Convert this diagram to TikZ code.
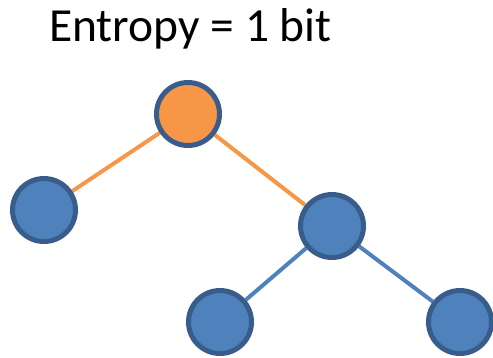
\documentclass[tikz,border=0pt]{standalone}
\usepackage{fontspec}
\setmainfont{Carlito}
\usetikzlibrary{backgrounds}
\definecolor{orfill}{HTML}{F79646}
\definecolor{blfill}{HTML}{4F81BD}
\definecolor{bledge}{HTML}{385D8A}
\tikzset{
  treenode/.style={circle, draw=bledge, line width=5pt, minimum size=63pt, inner sep=0pt},
  leafnode/.style={treenode, fill=blfill},
  rootnode/.style={treenode, fill=orfill},
  oedge/.style={draw=orfill, line width=4pt},
  bedge/.style={draw=blfill, line width=4pt}
}
\begin{document}
\begin{tikzpicture}[x=1pt,y=1pt]
\useasboundingbox (0,0) rectangle (493,357);
\node[anchor=base, font=\fontsize{47.5}{52}\selectfont, inner sep=0pt] (title) at (190.5,315) {Entropy = 1 bit};
\node[rootnode] (root) at (188,243) {};
\node[leafnode] (l) at (44,147) {};
\node[leafnode] (r) at (332,131) {};
\node[leafnode] (rl) at (220,35) {};
\node[leafnode] (rr) at (460,35) {};
\begin{pgfonlayer}{background}
\draw[oedge] (root) -- (l);
\draw[oedge] (root) -- (r);
\draw[bedge] (r) -- (rl);
\draw[bedge] (r) -- (rr);
\end{pgfonlayer}
\end{tikzpicture}
\end{document}
